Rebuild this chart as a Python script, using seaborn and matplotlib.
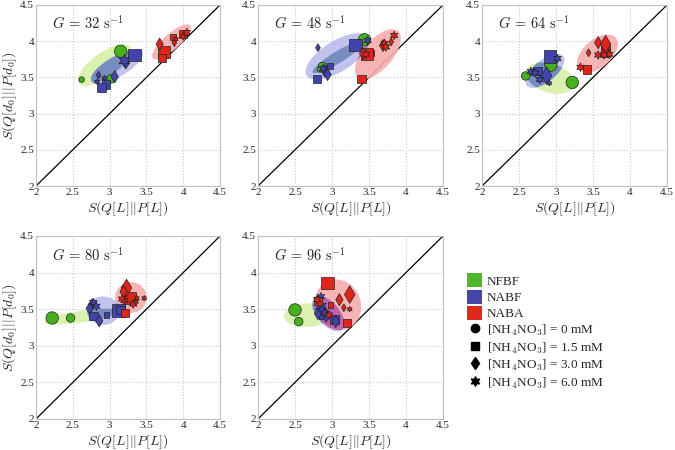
import numpy as np
import pandas as pd
import matplotlib
matplotlib.use("Agg")
import matplotlib.pyplot as plt
import seaborn as sns
from matplotlib.patches import Ellipse, Patch
from matplotlib.lines import Line2D

sns.set_theme(style="white")
plt.rcParams['font.family'] = ['Liberation Serif', 'DejaVu Serif']
plt.rcParams['mathtext.fontset'] = 'cm'

# ---------------- data ----------------
panels = ["32", "48", "64", "80", "96"]
groups = ["NFBF", "NABF", "NABA"]
concs = ["0", "1.5", "3.0", "6.0"]
conc_labels = [r"[NH$_4$NO$_3$] = 0 mM", r"[NH$_4$NO$_3$] = 1.5 mM",
               r"[NH$_4$NO$_3$] = 3.0 mM", r"[NH$_4$NO$_3$] = 6.0 mM"]

# G = 32 s^-1
G32_group = ["NFBF"] * 3 + ["NABF"] * 9 + ["NABA"] * 9
G32_conc = ["0", "0", "0",
            "1.5", "6.0", "3.0", "3.0", "3.0", "6.0", "6.0", "1.5", "1.5",
            "3.0", "1.5", "1.5", "1.5", "3.0", "6.0", "1.5", "3.0", "6.0"]
G32_size = [3, 2, 1,
            3, 3, 2, 2, 1, 1, 1, 2, 2,
            2, 3, 2, 1, 1, 1, 2, 1, 2]
G32_x = [3.15, 3.02, 2.62,
         3.34, 3.20, 3.22, 3.07, 2.85, 2.93, 2.83, 2.95, 2.89,
         3.68, 3.74, 3.71, 3.86, 3.88, 3.90, 4.00, 4.00, 4.05]
G32_y = [3.86, 3.48, 3.47,
         3.81, 3.73, 3.70, 3.51, 3.53, 3.49, 3.44, 3.40, 3.36,
         3.96, 3.85, 3.77, 4.06, 3.98, 4.03, 4.10, 4.07, 4.12]

# G = 48 s^-1
G48_group = ["NFBF"] * 3 + ["NABF"] * 8 + ["NABA"] * 10
G48_conc = ["0", "0", "0",
            "3.0", "1.5", "6.0", "1.5", "1.5", "3.0", "6.0", "3.0",
            "1.5", "3.0", "6.0", "1.5", "1.5", "3.0", "6.0", "6.0", "3.0", "6.0"]
G48_size = [3, 2, 1,
            1, 3, 2, 2, 1, 2, 2, 2,
            2, 2, 2, 1, 3, 2, 2, 2, 1, 2]
G48_x = [3.44, 2.87, 2.84,
         2.81, 3.32, 3.48, 2.80, 2.97, 2.90, 2.88, 2.94,
         3.40, 3.42, 3.46, 3.53, 3.47, 3.69, 3.71, 3.73, 3.80, 3.84]
G48_y = [4.02, 3.65, 3.61,
         3.91, 3.95, 4.01, 3.48, 3.66, 3.59, 3.62, 3.54,
         3.48, 3.83, 3.82, 3.84, 3.82, 3.94, 3.97, 3.92, 3.99, 4.08]

# G = 64 s^-1
G64_group = ["NFBF"] * 3 + ["NABF"] * 8 + ["NABA"] * 10
G64_conc = ["0", "0", "0",
            "1.5", "6.0", "1.5", "6.0", "6.0", "3.0", "6.0", "6.0",
            "3.0", "3.0", "1.5", "1.5", "6.0", "3.0", "6.0", "6.0", "6.0", "1.5"]
G64_size = [3, 3, 2,
            3, 2, 2, 2, 2, 3, 2, 1,
            2, 3, 2, 2, 2, 1, 2, 2, 2, 2]
G64_x = [2.93, 3.22, 2.59,
         2.92, 3.02, 2.75, 2.66, 2.72, 2.87, 2.78, 2.91,
         3.57, 3.67, 3.67, 3.67, 3.57, 3.44, 3.72, 3.65, 3.33, 3.42]
G64_y = [3.67, 3.43, 3.52,
         3.79, 3.76, 3.59, 3.58, 3.56, 3.54, 3.47, 3.42,
         3.98, 3.96, 3.89, 3.84, 3.81, 3.84, 3.82, 3.81, 3.64, 3.61]

# G = 80 s^-1
G80_group = ["NFBF"] * 2 + ["NABF"] * 9 + ["NABA"] * 10
G80_conc = ["0", "0",
            "3.0", "6.0", "3.0", "6.0", "1.5", "3.0", "1.5", "1.5", "1.5",
            "3.0", "3.0", "1.5", "6.0", "6.0", "6.0", "6.0", "6.0", "1.5", "6.0"]
G80_size = [3, 2,
            2, 2, 2, 2, 2, 2, 1, 3, 2,
            3, 2, 3, 2, 1, 1, 2, 1, 2, 2]
G80_x = [2.22, 2.47,
         2.76, 2.78, 2.73, 2.82, 2.78, 2.86, 2.96, 3.12, 3.15,
         3.23, 3.19, 3.28, 3.20, 3.37, 3.47, 3.32, 3.36, 3.21, 3.17]
G80_y = [3.38, 3.38,
         3.56, 3.59, 3.51, 3.54, 3.41, 3.34, 3.42, 3.48, 3.49,
         3.79, 3.74, 3.65, 3.62, 3.65, 3.65, 3.57, 3.60, 3.45, 3.64]

# G = 96 s^-1
G96_group = ["NFBF"] * 3 + ["NABF"] * 9 + ["NABA"] * 10
G96_conc = ["0", "0", "0",
            "6.0", "6.0", "3.0", "1.5", "3.0", "6.0", "1.5", "3.0", "6.0",
            "1.5", "1.5", "6.0", "3.0", "3.0", "3.0", "6.0", "1.5", "6.0", "1.5"]
G96_size = [3, 2, 1,
            2, 3, 2, 2, 2, 2, 2, 2, 2,
            3, 2, 2, 3, 2, 1, 1, 1, 2, 2]
G96_x = [2.50, 2.55, 2.89,
         2.85, 2.85, 2.81, 2.88, 2.92, 2.86, 3.03, 3.05, 2.90,
         2.94, 2.81, 2.80, 3.24, 3.10, 3.16, 3.24, 2.98, 2.96, 3.20]
G96_y = [3.49, 3.33, 3.49,
         3.67, 3.54, 3.44, 3.43, 3.40, 3.49, 3.36, 3.33, 3.45,
         3.86, 3.61, 3.63, 3.70, 3.63, 3.52, 3.50, 3.56, 3.42, 3.31]

# confidence ellipses (panel, group, centre, width, height, angle in degrees)
ell_panel = ["32", "32", "32", "48", "48", "48", "64", "64", "64",
             "80", "80", "80", "96", "96", "96"]
ell_group = ["NFBF", "NABF", "NABA"] * 5
ell_cx = [2.93, 3.10, 3.84, 3.08, 3.07, 3.62, 2.92, 2.85, 3.56,
          2.62, 2.915, 3.29, 2.68, 2.95, 3.08]
ell_cy = [3.67, 3.65, 3.99, 3.78, 3.79, 3.82, 3.49, 3.59, 3.83,
          3.40, 3.48, 3.66, 3.42, 3.44, 3.56]
ell_w = [0.86, 0.80, 0.68, 0.80, 0.98, 0.84, 0.68, 0.64, 0.66,
         1.04, 0.44, 0.43, 0.66, 0.58, 0.62]
ell_h = [0.34, 0.28, 0.22, 0.16, 0.42, 0.40, 0.40, 0.30, 0.38,
         0.16, 0.39, 0.42, 0.32, 0.30, 0.70]
ell_angle = [36, 30, 42, 32, 33, 50, -18, 40, 42,
             8, 0, 0, 4, -50, 20]

panel_data = {
    "32": (G32_group, G32_conc, G32_size, G32_x, G32_y),
    "48": (G48_group, G48_conc, G48_size, G48_x, G48_y),
    "64": (G64_group, G64_conc, G64_size, G64_x, G64_y),
    "80": (G80_group, G80_conc, G80_size, G80_x, G80_y),
    "96": (G96_group, G96_conc, G96_size, G96_x, G96_y),
}

# ---------------- styling ----------------
point_colors = {"NFBF": "#46B01E", "NABF": "#4343AE", "NABA": "#E0241A"}
legend_colors = {"NFBF": "#4CB82A", "NABF": "#4646AA", "NABA": "#DD2A1E"}
ell_colors = {"NFBF": "#d6f0a8", "NABF": "#bcbcee", "NABA": "#f7acac"}
overlap_colors = {"NFBF": "#7088bc", "NABA": "#c05aa8"}
ell_order = {"NFBF": 0, "NABA": 1, "NABF": 2}
marker_map = {"0": "o", "1.5": "s", "3.0": "d", "6.0": (6, 1, 0)}
size_map = {1: 16, 2: 38, 3: 80}

fig = plt.figure(figsize=(6.75, 4.5), dpi=100)
positions = [
    (36, 5, 184, 181), (258, 5, 185, 181), (482, 5, 185, 181),
    (36, 236, 184, 183), (258, 236, 185, 183),
]

ticks = [2, 2.5, 3, 3.5, 4, 4.5]
ticklabels = ["2", "2.5", "3", "3.5", "4", "4.5"]

for i, (pan, (l, t, w, h)) in enumerate(zip(panels, positions)):
    ax = fig.add_axes([l / 675, 1 - (t + h) / 450, w / 675, h / 450])
    ax.set_xlim(2, 4.5)
    ax.set_ylim(2, 4.5)
    ax.set_facecolor("white")
    ax.set_xticks(ticks)
    ax.set_yticks(ticks)
    ax.set_xticklabels(ticklabels, fontsize=8)
    ax.set_yticklabels(ticklabels, fontsize=8)
    ax.tick_params(length=0, pad=1.5)
    ax.grid(True, linestyle=":", color="#c8c8c8", linewidth=0.8)
    ax.set_axisbelow(True)
    for sp in ax.spines.values():
        sp.set_color("#c0c0c0")
        sp.set_linewidth(0.8)
    ax.plot([2, 4.5], [2, 4.5], color="black", linewidth=0.9, zorder=1)

    # ellipses
    idx = [k for k in range(len(ell_panel)) if ell_panel[k] == pan]
    idx.sort(key=lambda k: ell_order[ell_group[k]])
    patches = {}
    for k in idx:
        g = ell_group[k]
        e = Ellipse((ell_cx[k], ell_cy[k]), ell_w[k], ell_h[k], angle=ell_angle[k],
                    facecolor=ell_colors[g], alpha=0.9, edgecolor="none", zorder=2)
        ax.add_patch(e)
        patches[g] = k
    # darker overlap areas with the NABF ellipse
    kb = patches["NABF"]
    clip = Ellipse((ell_cx[kb], ell_cy[kb]), ell_w[kb], ell_h[kb], angle=ell_angle[kb],
                   facecolor="none", edgecolor="none")
    ax.add_patch(clip)
    for g in ["NFBF", "NABA"]:
        k = patches[g]
        o = Ellipse((ell_cx[k], ell_cy[k]), ell_w[k], ell_h[k], angle=ell_angle[k],
                    facecolor=overlap_colors[g], alpha=0.9, edgecolor="none", zorder=2.5)
        ax.add_patch(o)
        o.set_clip_path(clip)

    grp, conc, sz, xs, ys = panel_data[pan]
    df = pd.DataFrame({"group": grp, "conc": conc, "size": sz, "x": xs, "y": ys})
    for gi, g in enumerate(groups):
        for cc in concs:
            sub = df[(df.group == g) & (df.conc == cc)]
            if len(sub) == 0:
                continue
            sns.scatterplot(data=sub, x="x", y="y", ax=ax, color=point_colors[g],
                            marker=marker_map[cc], s=sub["size"].map(size_map).values,
                            edgecolor="#222222", linewidth=0.5, legend=False,
                            zorder=3 + gi)

    ax.text(2.22, 4.25, r"$G\, =\, %s\ \mathrm{s}^{-1}$" % pan, fontsize=10.5,
            va="center", ha="left")
    ax.set_xlabel(r"$S(Q[L]||P[L])$", fontsize=10, labelpad=2)
    if i in (0, 3):
        ax.set_ylabel(r"$S(Q[d_0]||P[d_0])$", fontsize=10, labelpad=1)
    else:
        ax.set_ylabel("")

# legend
handles = [Patch(facecolor=legend_colors[g], edgecolor="none") for g in groups]
handles += [Line2D([], [], linestyle="none", marker=marker_map[c], color="black",
                   markersize=6 if c != "6.0" else 7) for c in concs]
labels = groups + conc_labels
leg = fig.legend(handles, labels, loc="upper left", bbox_to_anchor=(462 / 675, 1 - 268 / 450),
                 frameon=False, fontsize=9.5, handlelength=1.1, handleheight=1.25,
                 handletextpad=0.4, labelspacing=0.15, borderaxespad=0)

fig.savefig("out.png", dpi=100)
